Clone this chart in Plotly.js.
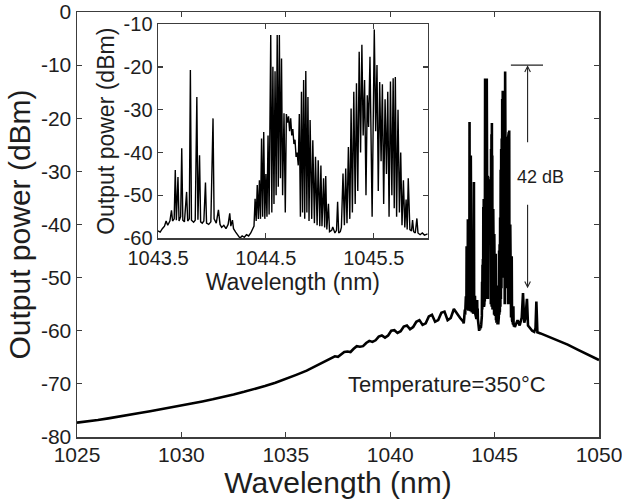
<!DOCTYPE html>
<html>
<head>
<meta charset="utf-8">
<script src="https://cdn.plot.ly/plotly-3.0.1.min.js"></script>
<style>html,body{margin:0;padding:0;background:#fff;}#chart{width:622px;height:502px;}</style>
</head>
<body>
<div id="chart"></div>
<script>
// ---- Tick labels ----
var mainXTicks = [1025, 1030, 1035, 1040, 1045, 1050];
var mainXLabels = ["1025", "1030", "1035", "1040", "1045", "1050"];
var mainYTicks = [-80, -70, -60, -50, -40, -30, -20, -10, 0];
var mainYLabels = ["-80", "-70", "-60", "-50", "-40", "-30", "-20", "-10", "0"];
var insetXTicks = [1043.5, 1044.5, 1045.5];
var insetXLabels = ["1043.5", "1044.5", "1045.5"];
var insetYTicks = [-60, -50, -40, -30, -20, -10];
var insetYLabels = ["-60", "-50", "-40", "-30", "-20", "-10"];

// ---- Main spectrum: broad ASE background with ripple (1025–1043.35 nm) ----
var bgWl = [1025, 1025.5, 1026, 1026.5, 1027, 1027.5, 1028, 1028.5, 1029, 1029.5,
  1030, 1030.5, 1031, 1031.5, 1032, 1032.5, 1033, 1033.5, 1034, 1034.5,
  1035, 1035.5, 1036, 1036.5, 1037, 1037.2, 1037.35, 1037.5, 1037.65, 1037.8,
  1037.95, 1038.1, 1038.25, 1038.4, 1038.55, 1038.7, 1038.85, 1039.0, 1039.15, 1039.3,
  1039.45, 1039.6, 1039.75, 1039.9, 1040.05, 1040.2, 1040.35, 1040.5, 1040.65, 1040.8,
  1040.95, 1041.1, 1041.25, 1041.4, 1041.55, 1041.7, 1041.85, 1042.0, 1042.15, 1042.3,
  1042.45, 1042.6, 1042.75, 1042.9, 1043.05, 1043.2, 1043.35];
var bgDbm = [-77.3, -77.1, -76.8, -76.5, -76.2, -75.85, -75.5, -75.15, -74.8, -74.45,
  -74.1, -73.7, -73.3, -72.9, -72.5, -72.0, -71.5, -71.0, -70.4, -69.8,
  -69.1, -68.3, -67.5, -66.5, -65.5, -65.0, -64.8, -64.9, -64.5, -64.0,
  -63.9, -64.0, -63.4, -62.9, -63.0, -62.9, -62.3, -61.9, -62.1, -61.8,
  -61.1, -60.9, -61.3, -60.9, -60.0, -59.9, -60.4, -60.1, -59.2, -59.0,
  -59.7, -59.3, -58.3, -58.0, -58.9, -58.6, -57.3, -57.0, -58.3, -58.0,
  -56.6, -56.4, -58.0, -57.6, -55.9, -56.8, -57.6];

// ---- Lasing comb region (also shown in the inset, 1043.5–1046 nm) ----
var insetWl = [1043.50, 1043.52, 1043.54, 1043.56, 1043.575, 1043.59, 1043.61, 1043.625, 1043.635, 1043.65,
  1043.66, 1043.67, 1043.685, 1043.695, 1043.71, 1043.72, 1043.73, 1043.745, 1043.765, 1043.775,
  1043.79, 1043.80, 1043.81, 1043.83, 1043.845, 1043.86, 1043.87, 1043.885, 1043.895, 1043.91,
  1043.925, 1043.94, 1043.95, 1043.97, 1043.99, 1044.01, 1044.02, 1044.04, 1044.06, 1044.075,
  1044.09, 1044.11, 1044.13, 1044.15, 1044.165, 1044.175, 1044.19, 1044.20, 1044.22, 1044.24,
  1044.26, 1044.28, 1044.30, 1044.32, 1044.34, 1044.36, 1044.38, 1044.39, 1044.40, 1044.41,
  1044.42, 1044.43, 1044.44, 1044.45, 1044.46, 1044.47, 1044.48, 1044.49, 1044.50, 1044.51,
  1044.52, 1044.53, 1044.545, 1044.555, 1044.565, 1044.575, 1044.585, 1044.595, 1044.605, 1044.615,
  1044.625, 1044.635, 1044.645, 1044.655, 1044.668, 1044.68, 1044.69, 1044.70, 1044.71, 1044.72,
  1044.73, 1044.74, 1044.75, 1044.76, 1044.77, 1044.78, 1044.79, 1044.80, 1044.81, 1044.82,
  1044.83, 1044.84, 1044.85, 1044.86, 1044.87, 1044.88, 1044.89, 1044.90, 1044.91, 1044.925,
  1044.935, 1044.95, 1044.96, 1044.975, 1044.985, 1045.00, 1045.01, 1045.02, 1045.035, 1045.045,
  1045.055, 1045.065, 1045.08, 1045.09, 1045.11, 1045.12, 1045.14, 1045.155, 1045.165, 1045.175,
  1045.19, 1045.20, 1045.215, 1045.228, 1045.24, 1045.252, 1045.265, 1045.278, 1045.29, 1045.302,
  1045.315, 1045.328, 1045.34, 1045.352, 1045.365, 1045.378, 1045.39, 1045.402, 1045.415, 1045.428,
  1045.44, 1045.452, 1045.465, 1045.485, 1045.505, 1045.518, 1045.53, 1045.542, 1045.555, 1045.568,
  1045.58, 1045.592, 1045.605, 1045.618, 1045.63, 1045.642, 1045.655, 1045.668, 1045.68, 1045.69,
  1045.70, 1045.712, 1045.725, 1045.738, 1045.75, 1045.762, 1045.775, 1045.788, 1045.80, 1045.81,
  1045.82, 1045.835, 1045.85, 1045.86, 1045.87, 1045.885, 1045.90, 1045.91, 1045.93, 1045.95,
  1045.97, 1046.00];
var insetDbm = [-58.3, -58.6, -57.8, -57.2, -56.0, -57.0, -56.0, -53.5, -56.0, -55.5,
  -44.1, -55.8, -45.7, -56.0, -55.0, -39.0, -55.8, -56.2, -49.2, -56.0,
  -55.5, -20.7, -55.8, -56.3, -55.8, -27.0, -55.7, -40.6, -56.2, -56.5,
  -56.0, -47.0, -56.5, -56.8, -56.2, -32.0, -55.5, -56.5, -53.4, -56.8,
  -57.5, -57.0, -57.8, -56.8, -54.2, -57.2, -55.8, -57.8, -58.6, -59.2,
  -60.0, -59.5, -59.8, -59.2, -59.5, -58.8, -57.5, -57.2, -50.8, -56.0,
  -47.6, -55.5, -46.5, -55.5, -36.7, -55.0, -35.2, -55.5, -45.0, -55.0,
  -36.0, -54.5, -12.5, -54.0, -19.9, -52.0, -21.0, -50.0, -12.5, -48.0,
  -12.5, -46.0, -18.0, -50.0, -30.8, -54.0, -31.0, -33.0, -31.5, -35.0,
  -32.0, -36.0, -34.5, -38.0, -37.0, -41.0, -40.0, -43.0, -31.0, -55.0,
  -25.8, -54.0, -23.0, -55.5, -20.9, -54.0, -27.0, -56.0, -32.4, -55.5,
  -37.1, -56.5, -41.0, -57.0, -41.8, -57.2, -43.0, -57.2, -46.0, -57.5,
  -45.5, -58.0, -52.0, -58.5, -58.2, -57.4, -58.8, -58.2, -51.5, -58.8,
  -58.5, -57.5, -44.9, -57.0, -43.7, -56.5, -38.7, -55.5, -29.7, -54.0,
  -25.8, -52.0, -23.8, -49.0, -16.4, -40.0, -14.8, -36.0, -23.0, -50.0,
  -26.6, -34.0, -17.6, -55.0, -11.2, -35.0, -19.5, -49.0, -23.5, -42.0,
  -24.0, -52.0, -27.5, -45.0, -25.8, -55.0, -23.4, -50.0, -22.6, -53.0,
  -22.3, -55.0, -30.0, -54.0, -40.0, -57.0, -46.5, -57.5, -51.0, -58.0,
  -46.0, -58.0, -58.3, -55.8, -58.5, -58.8, -55.4, -58.8, -59.2, -58.8,
  -59.3, -59.0];

// ---- Main spectrum: long-wavelength side (1046.1–1050 nm) ----
var tailWl = [1046.1, 1046.2, 1046.3, 1046.36, 1046.42, 1046.48, 1046.55, 1046.6, 1046.7, 1046.8,
  1046.9, 1046.96, 1047.0, 1047.05, 1047.2, 1047.5, 1048.0, 1048.5, 1049.0, 1049.5, 1050.0];
var tailDbm = [-58.0, -59.0, -57.5, -52.9, -58.5, -57.5, -54.0, -59.0, -59.5, -60.0,
  -60.2, -59.5, -54.5, -60.3, -60.5, -61.0, -61.8, -62.6, -63.6, -64.6, -65.5];

// ---- Annotation values ----
var peakLevel = -10, floorLevel = -52, contrastText = "42 dB";
var tempText = "Temperature=350°C";

var mainWl = bgWl.concat(insetWl, tailWl);
var mainDbm = bgDbm.concat(insetDbm, tailDbm);

var FONT = "Liberation Sans, Arial, Helvetica, sans-serif";
var TXT = "#1e1e1e", AX = "#3c3c3c";

var traces = [
  {x: mainWl, y: mainDbm, type: "scatter", mode: "lines", xaxis: "x", yaxis: "y",
   line: {color: "#000", width: 2.6}, hoverinfo: "skip"},
  {x: insetWl, y: insetDbm, type: "scatter", mode: "lines", xaxis: "x2", yaxis: "y2",
   line: {color: "#000", width: 1.4}, hoverinfo: "skip"}
];

function axisBase(extra) {
  var a = {showline: true, mirror: "ticks", linecolor: AX, linewidth: 1.5,
    ticks: "inside", ticklen: 5, tickwidth: 1.2, tickcolor: AX,
    showgrid: false, zeroline: false, automargin: false, tickmode: "array",
    tickfont: {family: FONT, size: 21, color: TXT}};
  for (var k in extra) a[k] = extra[k];
  return a;
}

var layout = {
  width: 622, height: 502,
  margin: {l: 77, r: 23, t: 12, b: 65},
  paper_bgcolor: "#fff", plot_bgcolor: "#fff",
  showlegend: false,
  font: {family: FONT, color: TXT},
  xaxis: axisBase({domain: [0, 1], anchor: "y", range: [1025, 1050],
    tickvals: mainXTicks, ticktext: mainXLabels, ticklabelstandoff: -2, ticklabeloverflow: "allow",
    title: {text: "Wavelength (nm)", font: {family: FONT, size: 30, color: TXT}, standoff: 0}}),
  yaxis: axisBase({domain: [0, 1], anchor: "x", range: [-80, 0],
    tickvals: mainYTicks, ticktext: mainYLabels,
    title: {text: "Output power (dBm)", font: {family: FONT, size: 30, color: TXT}, standoff: 1}}),
  xaxis2: axisBase({domain: [0.1552, 0.6718], anchor: "y2", range: [1043.5, 1046],
    tickvals: insetXTicks, ticktext: insetXLabels, ticklabelstandoff: 1,
    tickfont: {family: FONT, size: 20, color: TXT},
    title: {text: "Wavelength (nm)", font: {family: FONT, size: 23, color: TXT}, standoff: 2}}),
  yaxis2: axisBase({domain: [0.468, 0.971], anchor: "x2", range: [-60, -10],
    tickvals: insetYTicks, ticktext: insetYLabels,
    tickfont: {family: FONT, size: 20, color: TXT},
    title: {text: "Output power (dBm)", font: {family: FONT, size: 23, color: TXT}, standoff: 2}}),
  shapes: [
    {type: "line", xref: "x", yref: "y", x0: 1045.78, x1: 1047.32, y0: peakLevel, y1: peakLevel,
     line: {color: "#222", width: 1.3}}
  ],
  annotations: [
    {xref: "x", yref: "y", axref: "x", ayref: "y", x: 1046.58, y: peakLevel, ax: 1046.58, ay: -24.8,
     text: "", showarrow: true, arrowhead: 5, arrowsize: 1, arrowwidth: 1.1, arrowcolor: "#222"},
    {xref: "x", yref: "y", axref: "x", ayref: "y", x: 1046.58, y: floorLevel, ax: 1046.58, ay: -36,
     text: "", showarrow: true, arrowhead: 5, arrowsize: 1, arrowwidth: 1.1, arrowcolor: "#222"},
    {xref: "x", yref: "y", x: 1047.2, y: -31.0, text: contrastText, showarrow: false,
     font: {family: FONT, size: 18, color: TXT}},
    {xref: "x", yref: "y", x: 1042.7, y: -70.2, text: tempText, showarrow: false,
     font: {family: FONT, size: 22, color: TXT}}
  ]
};

Plotly.newPlot("chart", traces, layout, {staticPlot: true, displayModeBar: false});
</script>
</body>
</html>
